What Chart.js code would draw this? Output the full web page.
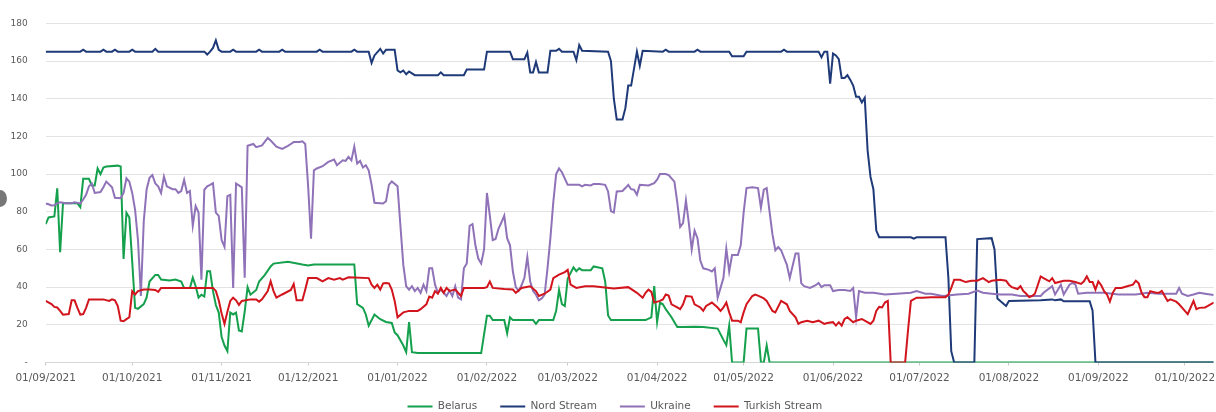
<!DOCTYPE html>
<html><head><meta charset="utf-8">
<script src="https://cdn.jsdelivr.net/npm/chart.js@4.4.1/dist/chart.umd.min.js"></script>
<style>
html,body{margin:0;padding:0;background:#fff;overflow:hidden;}
#wrap{position:relative;width:1216px;height:435px;}
#knob{position:absolute;left:-7px;top:190px;width:14px;height:17px;border-radius:50%;background:#777;}
</style></head><body>
<div id="wrap"><canvas id="c"></canvas><div id="knob"></div></div>
<script>
// Daily gas flows (mcm/d); x = days since startDate
const startDate = '01/09/2021';
const xTickLabels = ['01/09/2021','01/10/2021','01/11/2021','01/12/2021','01/01/2022','01/02/2022','01/03/2022','01/04/2022','01/05/2022','01/06/2022','01/07/2022','01/08/2022','01/09/2022','01/10/2022'];
const seriesNames = ['Belarus','Nord Stream','Ukraine','Turkish Stream'];

const belarus = [[0,73.5],[1,77],[3,77.5],[4,92.5],[5,58.5],[6,84.5],[11,84.5],[12,82.5],[13,97.5],[15,97.5],[16,94],[17,94],[18,103],[19,100],[20,103.5],[21,104],[25,104.5],[26,104],[27,55],[28,79.5],[29,77],[30,53.5],[31,29],[32,28.5],[34,31],[35,34.5],[36,43],[38,46.5],[39,46.5],[40,44],[43,43.5],[45,44],[47,43],[48,39.5],[50,39.5],[51,45],[52,40.5],[53,34.5],[54,36],[55,35],[56,48.5],[57,48.5],[58,38],[59,30.5],[60,26.5],[61,13.5],[62,9],[63,6],[64,26.5],[65,25.5],[66,26.5],[67,17],[68,16.5],[69,27],[70,40],[71,36],[73,38.5],[74,43],[76,46.5],[78,51],[79,52.5],[84,53.5],[89,52],[91,51.5],[93,52],[107,52],[108,31],[110,29],[111,25.5],[112,19.5],[114,25.5],[116,23],[118,21.5],[120,21],[121,16],[122,14.5],[124,9],[125,5.5],[126,21.5],[127,5.5],[129,5],[151,5],[153,24.8],[154,24.8],[155,22.5],[159,22.5],[160,15.5],[161,24],[162,22.5],[169,22.5],[170,20.5],[171,22.5],[176,22.5],[177,27.5],[178,38.5],[179,31],[180,30],[181,44.5],[182,47.5],[183,50.5],[184,48.5],[185,50],[186,49],[189,49],[190,51],[193,50],[194,43],[195,25],[196,22.5],[208,22.5],[210,24],[211,40.5],[212,21.5],[213,31.8],[214,30.9],[215,28.3],[217,24],[219,18.8],[221,18.8],[225,19],[228,18.8],[233,18],[235,12],[236,9.2],[237,19.6],[238,0],[242,0],[243,18],[247,18],[248,0],[249,0],[250,9],[251,0],[405,0]];

const nordStream = [[0,165],[12,165],[13,166],[14,165],[19,165],[20,166],[21,165],[23,165],[24,166],[25,165],[29,165],[30,166],[31,165],[37,165],[38,166.5],[39,165],[55,165],[56,163.5],[57,165],[58,167],[59,171],[60,166],[61,165],[64,165],[65,166],[66,165],[73,165],[74,166],[75,165],[81,165],[82,166],[83,165],[94,165],[95,166],[96,165],[106,165],[107,166],[108,165],[112,165],[113,159],[114,163],[116,166.5],[117,164],[118,166],[121,166],[122,155],[123,154],[124,155],[125,153],[126,154.5],[127,153.5],[128,152.5],[136,152.5],[137,154],[138,152.5],[145,152.5],[146,155.5],[152,155.5],[153,165],[161,165],[162,161],[166,161],[167,164.5],[168,154],[169,154],[170,159.5],[171,154],[174,154],[175,165.5],[177,165.5],[178,166.5],[179,165],[183,165],[184,160.5],[185,168.5],[186,165.5],[195,165],[196,160],[197,140],[198,129],[200,129],[201,135],[202,147],[203,147],[205,165],[206,157.5],[207,165.5],[214,165],[215,166],[216,165],[225,165],[226,166],[227,165],[237,165],[238,162.5],[242,162.5],[243,165],[255,165],[256,166],[257,165],[268,165],[269,162],[270,165],[271,165],[272,148],[273,164],[274,163],[275,161],[276,151],[277,151],[278,152.5],[279,150],[280,147],[281,141],[282,141],[283,138],[284,140.5],[285,112.5],[286,98.5],[287,92],[288,70],[289,66.5],[300,66.5],[301,65.8],[302,66.5],[312,66.5],[313,45],[314,6],[315,0],[322,0],[323,65.5],[328,66],[329,60],[330,34],[331,32.7],[333,30],[334,32.7],[345,33],[349,33.5],[350,33],[352,33.5],[353,32.5],[362,32.5],[363,27.5],[364,0],[405,0]];

const ukraine = [[0,84.4],[1,84],[2,83.4],[3,83.5],[4,84.5],[5,85],[7,84.5],[9,84.5],[10,85],[12,84.4],[13,86.5],[14,89],[15,93.5],[16,95],[17,90],[19,90.5],[20,93],[21,96],[23,93],[24,87.4],[26,87.2],[27,90],[28,97.8],[29,96],[30,90],[31,81],[32,65],[33,35.3],[34,75],[35,92],[36,98],[37,99.5],[38,95],[39,93.5],[40,90],[41,98.7],[42,93.5],[44,92],[45,92],[46,90],[47,91],[48,97],[49,90],[50,91],[51,72.6],[52,83],[53,79.6],[54,44],[55,91.7],[56,93.5],[57,94.3],[58,95.2],[59,79.6],[60,77.8],[61,65],[62,61.4],[63,88.3],[64,89],[65,39.6],[66,95],[67,94],[68,93],[69,45],[70,115],[72,116],[73,114.3],[75,115.2],[77,119.2],[78,117.8],[80,114.6],[82,113.4],[84,115],[85,116],[86,117],[88,117],[89,117.4],[90,116],[91,93.5],[92,65.7],[93,102],[94,103],[96,104.2],[98,106.5],[100,107.7],[101,104.7],[103,107.3],[104,107],[105,109.1],[106,107.3],[107,114.6],[108,105.6],[109,107],[110,103.5],[111,104.7],[112,102],[113,94.3],[114,84.8],[117,84.4],[118,85.6],[119,94.3],[120,96.1],[122,93.5],[123,72.6],[124,51.8],[125,40.5],[126,38.7],[127,40.5],[128,37.9],[129,39.6],[130,37],[131,41.3],[132,37.9],[133,50],[134,50],[135,41.3],[136,37],[137,38.7],[139,35.3],[140,38.2],[141,35.3],[142,40.5],[143,34.4],[144,33.5],[145,50],[146,52.6],[147,72.6],[148,73.5],[149,62.2],[150,55.2],[151,52.6],[152,60],[153,90],[154,78],[155,65],[156,65.6],[157,71],[158,74.3],[159,78],[160,66],[161,62.2],[162,48.3],[163,40],[164,38],[165,41],[166,45],[167,56],[168,43],[169,38],[170,36],[171,33],[172,34],[173,36],[174,50],[175,66],[176,85],[177,100],[178,103],[179,101],[181,94.3],[183,94.3],[185,94.3],[186,93.5],[187,94.3],[189,94],[190,94.8],[192,94.8],[194,94.3],[195,90.8],[196,80.4],[197,79.6],[198,90.8],[200,91],[201,92.6],[202,94.3],[203,92],[204,91.7],[205,89.1],[206,94.3],[209,94],[211,95.2],[212,97],[213,100],[215,100],[216,99.5],[218,96],[219,85],[220,72],[221,74],[222,86],[223,74],[224,60],[225,70],[226,66],[227,54],[228,50],[230,49.2],[231,48.3],[232,50],[233,34.4],[234,39.6],[235,44.8],[236,60.4],[237,48.3],[238,57],[240,57],[241,62.2],[242,79.6],[243,92.6],[245,93],[247,92.6],[248,82.2],[249,91.7],[250,92.6],[251,80],[252,68],[253,59.6],[254,61.3],[255,59.6],[257,51.8],[258,44.8],[260,57.8],[261,57.8],[262,42],[263,40.5],[265,39.6],[267,41],[268,42.2],[269,40],[270,41],[272,41],[273,37.9],[275,38.5],[277,38.5],[279,38],[280,39.6],[281,24],[282,37.9],[284,37],[287,37],[291,36.1],[295,36.5],[300,37],[302,37.9],[305,36.5],[307,36.5],[311,35.3],[316,36.1],[320,36.5],[323,38.2],[325,37],[328,36.5],[331,36.1],[335,36.1],[338,35.3],[345,35.3],[346,37],[349,40.5],[350,36.1],[352,41.3],[353,36.1],[355,41.3],[356,42.2],[357,41.5],[358,36.5],[361,37],[367,37],[372,36.1],[378,36.1],[382,37],[386,36.5],[392,36.5],[393,39.6],[394,36.5],[396,35.3],[398,36.1],[400,37],[402,36.5],[405,35.8]];

const turkishStream = [[0,32.7],[2,31],[3,29.5],[4,29.2],[5,27.4],[6,25.4],[8,25.7],[9,33],[10,33],[11,29],[12,25.4],[13,25.7],[14,29],[15,33.5],[20,33.5],[22,32.7],[23,33.5],[24,33],[25,30],[26,22.2],[27,21.9],[28,23],[29,24],[30,37.9],[31,36.1],[32,37.9],[34,38.7],[36,38.7],[38,38.5],[39,37.5],[40,39.6],[58,39.6],[59,38],[60,33],[61,26],[62,20.5],[63,27],[64,32.7],[65,34.4],[66,33],[67,30.6],[68,32.7],[71,33.5],[73,33.5],[74,32.3],[75,33.5],[77,37.9],[78,43.1],[79,37.9],[80,34.4],[82,36.1],[85,38.5],[86,41.7],[87,33],[89,33],[90,38.7],[91,44.8],[94,44.8],[96,43.1],[98,44.8],[100,44],[102,44.8],[103,44],[105,45.2],[112,44.8],[113,41.3],[114,39.6],[115,41.3],[116,38.7],[117,42],[118,42.2],[119,42],[120,38.7],[121,32.7],[122,24],[124,26.6],[126,27.4],[129,27.4],[130,28.3],[132,30.9],[133,35],[134,34.4],[135,37.9],[136,36.5],[137,39.6],[138,37],[139,39.6],[140,38],[142,38.7],[144,35.3],[145,39.6],[152,39.6],[153,40],[154,43],[155,39.6],[159,39],[162,38.7],[163,37],[165,39.6],[168,40.5],[170,37.9],[171,35.3],[173,36.5],[175,38.7],[176,44.8],[178,46.6],[180,48],[181,49.2],[182,41.3],[184,39.6],[187,40.5],[190,40.5],[197,39.3],[202,40],[205,37],[207,34.4],[208,37],[209,38.7],[210,37.5],[211,31.8],[213,32.7],[214,33.5],[215,36.1],[216,35.5],[217,30.9],[219,29.2],[220,28.3],[221,30.9],[222,35.3],[224,35],[225,30.9],[227,29.2],[228,27.4],[229,30],[231,31.8],[233,29.2],[234,27.4],[235,29.2],[236,31.8],[237,26.6],[238,22.2],[240,22.2],[241,21.4],[242,26.6],[243,30.9],[245,35.3],[246,36.1],[247,35.5],[249,34],[250,32.7],[252,27.4],[253,26.6],[255,32.7],[257,30.9],[258,27.4],[260,24],[261,20.5],[262,21.4],[264,22.2],[266,21.4],[268,22.2],[270,20.5],[271,21],[273,21.4],[274,19.6],[275,21.4],[276,19.6],[277,23.1],[278,24],[280,21.4],[281,22.2],[283,23.1],[284,22.2],[286,20.5],[287,22.2],[288,27.4],[289,29.5],[290,29.2],[291,31.8],[292,32.7],[293,0],[298,0],[299,17],[300,32.7],[302,34.4],[304,34.4],[307,34.7],[312,34.7],[313,36],[314,39.6],[315,43.9],[317,43.9],[319,42.7],[321,43.4],[323,43.4],[325,44.8],[327,42.7],[328,43.4],[331,43.9],[333,43.4],[334,41.3],[335,40],[337,39],[338,40.5],[339,37.9],[340,36.5],[341,34.7],[342,35.3],[343,36.5],[345,45.7],[346,44.8],[348,43.1],[349,44.8],[350,42.2],[353,43.4],[355,43.4],[357,42.7],[359,41.7],[360,43.1],[361,45.7],[362,42.7],[363,42.7],[364,38.7],[365,43.1],[366,41],[367,37.9],[368,36.1],[369,32.3],[370,37],[371,39.6],[373,39.6],[375,40.5],[377,41.3],[378,43.4],[379,42],[380,37],[381,34.7],[382,34.7],[383,37.9],[385,37],[386,37],[387,38],[389,32.7],[390,33.5],[392,32.3],[393,30.9],[395,27.4],[396,25.7],[397,29.2],[398,32.7],[399,28.3],[400,29],[402,29.2],[403,30],[405,31.8]];

const seriesColors = ['#14a04c','#1f3a78','#8f72b8','#d2141c'];

function dayOf(label){
  const p = label.split('/'), s = startDate.split('/');
  return Math.round((Date.UTC(+p[2], +p[1]-1, +p[0]) - Date.UTC(+s[2], +s[1]-1, +s[0])) / 86400000);
}
const tickDays = xTickLabels.map(dayOf);
const labelByDay = {};
xTickLabels.forEach((l,i)=>{ labelByDay[tickDays[i]] = l; });

const seriesData = [belarus, nordStream, ukraine, turkishStream];
const datasets = seriesData.map((arr, i) => ({
  label: seriesNames[i],
  data: arr.map(p => ({x: p[0], y: p[1]})),
  borderColor: seriesColors[i],
  backgroundColor: seriesColors[i],
  borderWidth: 2,
  pointRadius: 0,
  tension: 0,
  fill: false,
  order: 4 - i
}));

// nudge the legend box into its place under the plot
const legendShift = {
  id: 'legendShift',
  afterLayout(chart) {
    const lg = chart.legend;
    if (!lg) return;
    lg.left += 8; lg.right += 8;
    lg.top -= 13.2; lg.bottom -= 13.2;
  }
};

const txt = '#595959';
new Chart(document.getElementById('c'), {
  type: 'line',
  data: { datasets },
  plugins: [legendShift],
  options: {
    responsive: true,
    maintainAspectRatio: false,
    animation: false,
    devicePixelRatio: 1,
    layout: { padding: { top: 17.3, right: 2.3, left: 0, bottom: 0 } },
    plugins: {
      tooltip: { enabled: false },
      legend: {
        position: 'bottom',
        labels: {
          usePointStyle: true,
          pointStyle: 'line',
          pointStyleWidth: 25,
          padding: 23,
          color: txt,
          font: { family: 'DejaVu Sans', size: 10.5 },
          sort: (a, b) => a.datasetIndex - b.datasetIndex
        }
      }
    },
    scales: {
      x: {
        type: 'linear',
        min: 0,
        max: 405,
        afterBuildTicks: (scale) => { scale.ticks = tickDays.map(v => ({ value: v })); },
        afterFit: (scale) => { scale.paddingLeft = 0; scale.paddingRight = 0; },
        ticks: {
          autoSkip: false,
          maxRotation: 0,
          padding: 6.7,
          color: txt,
          font: { family: 'DejaVu Sans', size: 10.5 },
          callback: (v) => labelByDay[v] || ''
        },
        grid: { drawOnChartArea: false, drawTicks: true, tickLength: 3, color: '#c9c9c9' },
        border: { display: true, color: '#d6d6d6', width: 1 }
      },
      y: {
        min: 0,
        max: 180,
        afterFit: (scale) => { scale.width = 45.7; },
        ticks: {
          stepSize: 20,
          padding: 18,
          color: txt,
          font: { family: 'DejaVu Sans', size: 9 },
          callback: (v) => v === 0 ? '-' : v
        },
        grid: { drawTicks: false, color: '#e3e3e3', lineWidth: 1 },
        border: { display: false }
      }
    }
  }
});
</script>
</body></html>
